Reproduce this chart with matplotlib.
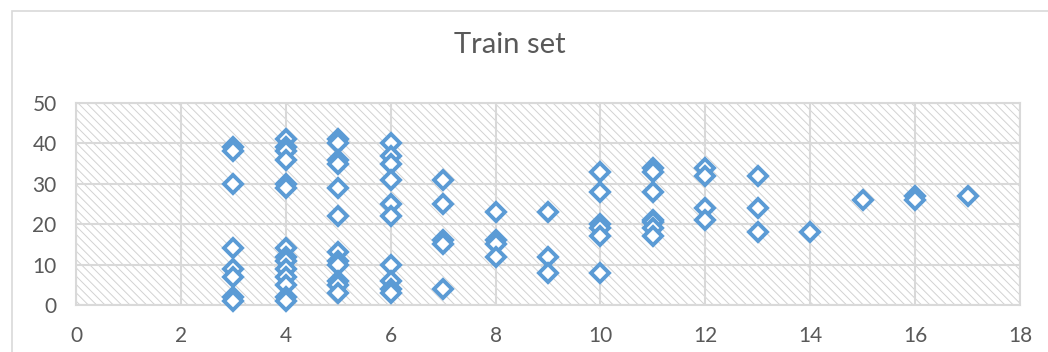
import matplotlib.pyplot as plt
from matplotlib.patches import Rectangle

# training samples, y values grouped by x column
y3 = [39, 38, 30, 14, 9, 7, 2, 1]
y4 = [41, 39, 38, 36, 30, 29, 14, 12, 11, 9, 7, 5, 2, 1]
y5 = [41, 40, 36, 35, 29, 22, 13, 11, 10, 6, 5, 3]
y6 = [40, 37, 35, 31, 25, 22, 10, 6, 4, 3]
y7 = [31, 25, 16, 15, 4]
y8 = [23, 16, 15, 12]
y9 = [23, 12, 8]
y10 = [33, 28, 20, 19, 17, 8]
y11 = [34, 33, 28, 21, 20.5, 19, 17]
y12 = [34, 32, 24, 21]
y13 = [32, 24, 18]
y14 = [18]
y15 = [26]
y16 = [27, 26]
y17 = [27]

columns = {3: y3, 4: y4, 5: y5, 6: y6, 7: y7, 8: y8, 9: y9, 10: y10,
           11: y11, 12: y12, 13: y13, 14: y14, 15: y15, 16: y16, 17: y17}

xs = []
ys = []
for k, vals in columns.items():
    xs += [k] * len(vals)
    ys += vals

plt.rcParams['font.family'] = ['Lato', 'DejaVu Sans']
plt.rcParams['hatch.linewidth'] = 0.7
plt.rcParams['hatch.color'] = '#d2d2d2'

fig = plt.figure(figsize=(10.48, 3.52), dpi=100)
ax = fig.add_axes([76 / 1048, 47 / 352, (1020 - 76) / 1048, (305 - 103) / 352])

# chart frame
fig.patches.append(Rectangle((12 / 1048, -0.1), 1.2, 1.1 - 11 / 352,
                             transform=fig.transFigure, fill=False,
                             edgecolor='#d9d9d9', linewidth=1.2))

# hatched plot-area background
ax.add_patch(Rectangle((0, 0), 1, 1, transform=ax.transAxes, facecolor='white',
                       edgecolor='#d2d2d2', hatch='\\' * 4,
                       linewidth=0, zorder=0))

ax.plot(xs, ys, linestyle='none', marker='D', markersize=9.2,
        markerfacecolor='white', markeredgecolor='#5b9bd5', markeredgewidth=2.8,
        zorder=3, clip_on=False)

ax.set_xlim(0, 18)
ax.set_ylim(0, 50)
ax.set_xticks(range(0, 19, 2))
ax.set_yticks(range(0, 51, 10))
ax.grid(True, color='#d9d9d9', linewidth=1.5, zorder=1)
ax.set_axisbelow(True)
for s in ax.spines.values():
    s.set_color('#d9d9d9')
    s.set_linewidth(1.5)
ax.tick_params(length=0, labelsize=15, labelcolor='#595959')
ax.tick_params(axis='x', pad=15)
ax.tick_params(axis='y', pad=14)

fig.text(510 / 1048, 1 - 45 / 352, 'Train set', ha='center', va='center',
         fontsize=21, color='#595959')

fig.savefig('out.png', dpi=100)
